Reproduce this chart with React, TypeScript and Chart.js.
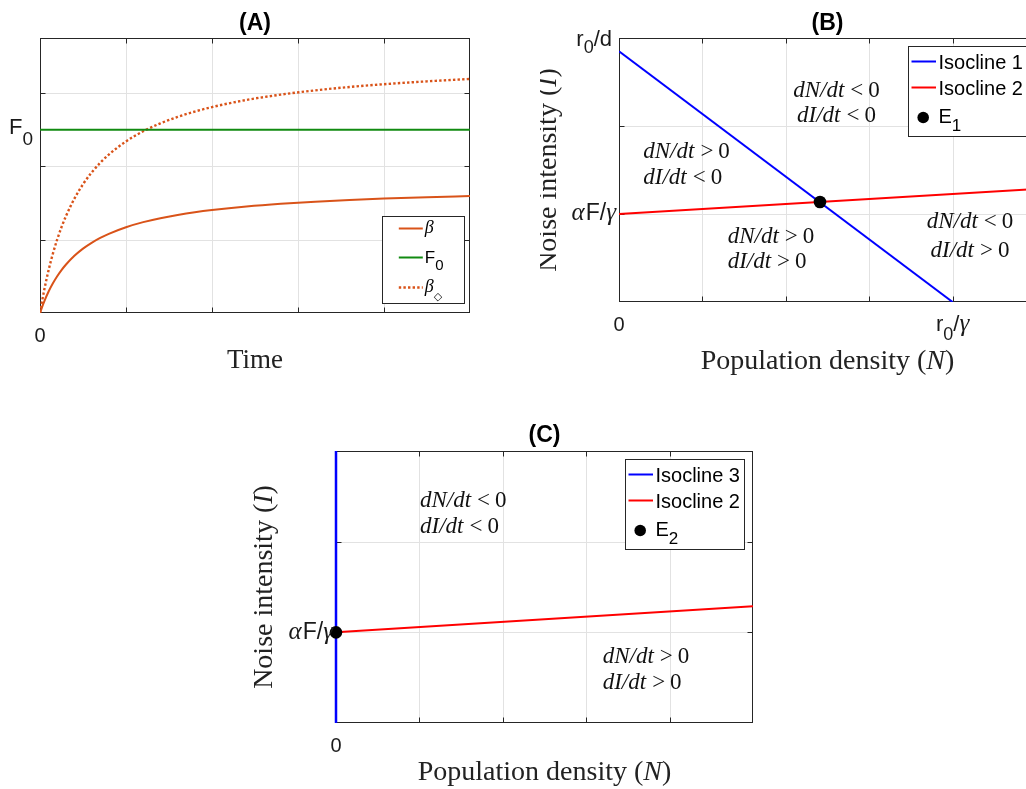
import React, { useEffect, useRef } from 'react';
import { Chart, registerables } from 'chart.js';

Chart.register(...registerables);

// ---------------- data ----------------
// Panel A
const timeValues = [0, 0.025, 0.05, 0.1, 0.15, 0.2, 0.25, 0.3, 0.4, 0.5, 0.6, 0.7, 0.8, 1.0, 1.2, 1.4, 1.6, 1.8, 2.0, 2.4, 2.8, 3.2, 3.6, 4.0, 4.5, 5.0];
const betaValues = [0, 0.084, 0.16, 0.293, 0.405, 0.501, 0.585, 0.658, 0.78, 0.878, 0.957, 1.024, 1.08, 1.17, 1.239, 1.293, 1.337, 1.374, 1.404, 1.452, 1.489, 1.518, 1.541, 1.56, 1.58, 1.595];
const betaDiamondValues = [0, 0.167, 0.319, 0.585, 0.81, 1.003, 1.17, 1.316, 1.56, 1.755, 1.915, 2.048, 2.16, 2.34, 2.478, 2.586, 2.674, 2.747, 2.808, 2.905, 2.978, 3.036, 3.082, 3.12, 3.159, 3.191];
const f0Time = [0, 5];
const f0Values = [2.5, 2.5];
const panelAGridX = [1, 2, 3, 4];
const panelAGridY = [1, 2, 3];

// Panel B
const isocline1N = [0, 4];
const isocline1I = [2.85, 0];
const isocline2BN = [0, 5];
const isocline2BI = [1, 1.285];
const equilibrium1N = [2.41];
const equilibrium1I = [1.137];
const panelBGridX = [1, 2, 3, 4, 5];
const panelBGridY = [1, 2];

// Panel C
const isocline3N = [0, 0];
const isocline3I = [0, 3];
const isocline2CN = [0, 5];
const isocline2CI = [1, 1.287];
const equilibrium2N = [0];
const equilibrium2I = [1];
const panelCGridX = [1, 2, 3, 4];
const panelCGridY = [1, 2];

// ---------------- styling helpers ----------------
const SANS = "'Liberation Sans', Arial, Helvetica, sans-serif";
const SERIF = "'Liberation Serif', 'Times New Roman', serif";
const SYM = "'DejaVu Sans', sans-serif";
const AXIS_COLOR = '#262626';
const GRID_COLOR = '#e2e2e2';
const ORANGE = '#D95319';
const GREEN = '#118a11';
const BLUE = '#0000ff';
const RED = '#ff0000';

const fnt = (size: number, family: string, style = '') => `${style} ${size}px ${family}`.trim();

type Seg = { t?: string; font?: string; dy?: number; gap?: number };

function measureSegs(ctx: CanvasRenderingContext2D, segs: Seg[]) {
  let w = 0;
  for (const s of segs) {
    if (s.gap) { w += s.gap; continue; }
    ctx.font = s.font as string;
    w += ctx.measureText(s.t as string).width;
  }
  return w;
}

function drawSegs(ctx: CanvasRenderingContext2D, segs: Seg[], x: number, y: number, align: 'left' | 'center' | 'right') {
  const w = measureSegs(ctx, segs);
  let cx = align === 'left' ? x : align === 'center' ? x - w / 2 : x - w;
  ctx.textAlign = 'left';
  ctx.textBaseline = 'alphabetic';
  for (const s of segs) {
    if (s.gap) { cx += s.gap; continue; }
    ctx.font = s.font as string;
    ctx.fillText(s.t as string, cx, y + (s.dy || 0));
    cx += ctx.measureText(s.t as string).width;
  }
}

const MATH_IT = fnt(23, SERIF, 'italic');
const MATH_RM = fnt(23, SERIF);
const ineq = (lhs: string, op: string): Seg[] => [
  { t: lhs, font: MATH_IT }, { gap: 6 }, { t: op, font: MATH_RM }, { gap: 5 }, { t: '0', font: MATH_RM },
];
const TICK = fnt(20, SANS);
const TEX = fnt(22, SANS);
const TEX_SUB = fnt(18, SANS);
const GREEK = fnt(25, SERIF, 'italic');
const TITLE_FONT = fnt(28, SERIF);

const alphaFGamma: Seg[] = [{ t: 'α', font: GREEK }, { gap: 1 }, { t: 'F/', font: fnt(23, SANS) }, { t: 'γ', font: GREEK }];
const zeroLabel: Seg[] = [{ t: '0', font: TICK }];
const popTitle: Seg[] = [{ t: 'Population density (', font: TITLE_FONT }, { t: 'N', font: fnt(28, SERIF, 'italic') }, { t: ')', font: TITLE_FONT }];
const noiseTitle: Seg[] = [{ t: 'Noise intensity (', font: TITLE_FONT }, { t: 'I', font: fnt(28, SERIF, 'italic') }, { t: ')', font: TITLE_FONT }];

type TickLabel = { v: number; segs: Seg[]; dy?: number; gap?: number };
type Note = { n: number; i: number; align: 'left' | 'center'; lines: Seg[][]; gap: number };
type LegendRow = { dy: number; kind: 'line' | 'dots' | 'marker'; color: string; label: Seg[]; labelDy: number };
type LegendSpec = {
  right: number; top?: number; bottom?: number; width: number; height: number;
  lineX0: number; lineX1: number; textX: number; markerX: number; markerR: number; rows: LegendRow[];
};
type PanelSpec = {
  title: string; titleDy: number;
  gridX: number[]; gridY: number[];
  xTitle: Seg[]; xTitleDy: number;
  yTitle: Seg[] | null; yTitleDx: number;
  xTicks: TickLabel[]; xTickDy: number;
  yTicks: TickLabel[];
  notes: Note[];
  legend: LegendSpec;
};

function framePlugin(spec: PanelSpec) {
  return {
    id: 'matlabFrame',
    beforeDatasetsDraw(chart: any) {
      const { ctx, chartArea: a, scales } = chart;
      const xs = scales.x, ys = scales.y;
      ctx.save();
      ctx.lineWidth = 1;
      ctx.strokeStyle = GRID_COLOR;
      ctx.beginPath();
      for (const v of spec.gridX) {
        const px = Math.round(xs.getPixelForValue(v)) + 0.5;
        ctx.moveTo(px, a.top); ctx.lineTo(px, a.bottom);
      }
      for (const v of spec.gridY) {
        const py = Math.round(ys.getPixelForValue(v)) + 0.5;
        ctx.moveTo(a.left, py); ctx.lineTo(a.right, py);
      }
      ctx.stroke();
      const L = Math.round(a.left) + 0.5, R = Math.round(a.right) - 0.5;
      const T = Math.round(a.top) + 0.5, B = Math.round(a.bottom) - 0.5;
      ctx.strokeStyle = AXIS_COLOR;
      ctx.strokeRect(L, T, R - L, B - T);
      ctx.beginPath();
      for (const v of spec.gridX) {
        const px = Math.round(xs.getPixelForValue(v)) + 0.5;
        ctx.moveTo(px, B); ctx.lineTo(px, B - 5);
        ctx.moveTo(px, T); ctx.lineTo(px, T + 5);
      }
      for (const v of spec.gridY) {
        const py = Math.round(ys.getPixelForValue(v)) + 0.5;
        ctx.moveTo(L, py); ctx.lineTo(L + 5, py);
        ctx.moveTo(R, py); ctx.lineTo(R - 5, py);
      }
      ctx.stroke();
      ctx.restore();
    },
    afterDraw(chart: any) {
      const { ctx, chartArea: a, scales } = chart;
      const xs = scales.x, ys = scales.y;
      ctx.save();
      ctx.fillStyle = '#000';
      const cx = (a.left + a.right) / 2;
      const cy = (a.top + a.bottom) / 2;
      // title
      drawSegs(ctx, [{ t: spec.title, font: fnt(23, SANS, 'bold') }], cx, a.top - spec.titleDy, 'center');
      // tick labels
      ctx.fillStyle = '#1a1a1a';
      for (const tl of spec.xTicks) {
        drawSegs(ctx, tl.segs, xs.getPixelForValue(tl.v), a.bottom + spec.xTickDy, 'center');
      }
      for (const tl of spec.yTicks) {
        drawSegs(ctx, tl.segs, a.left - (tl.gap ?? 6), ys.getPixelForValue(tl.v) + (tl.dy ?? 5), 'right');
      }
      // axis titles
      ctx.fillStyle = '#222';
      drawSegs(ctx, spec.xTitle, cx, a.bottom + spec.xTitleDy, 'center');
      if (spec.yTitle) {
        ctx.save();
        ctx.translate(a.left - spec.yTitleDx, cy);
        ctx.rotate(-Math.PI / 2);
        drawSegs(ctx, spec.yTitle, 0, 0, 'center');
        ctx.restore();
      }
      // region notes
      ctx.fillStyle = '#111';
      for (const nt of spec.notes) {
        const px = xs.getPixelForValue(nt.n);
        const py = ys.getPixelForValue(nt.i);
        nt.lines.forEach((ln, k) => drawSegs(ctx, ln, px, py + k * nt.gap, nt.align));
      }
      // legend
      const lg = spec.legend;
      const bx = Math.round(a.right - lg.right - lg.width) + 0.5;
      const by = Math.round(lg.top !== undefined ? a.top + lg.top : a.bottom - (lg.bottom as number) - lg.height) + 0.5;
      ctx.fillStyle = '#fff';
      ctx.fillRect(bx, by, lg.width, lg.height);
      ctx.strokeStyle = AXIS_COLOR;
      ctx.lineWidth = 1;
      ctx.strokeRect(bx, by, lg.width, lg.height);
      for (const row of lg.rows) {
        const ry = by + row.dy;
        if (row.kind === 'marker') {
          ctx.fillStyle = '#000';
          ctx.beginPath();
          ctx.arc(bx + lg.markerX, ry, lg.markerR, 0, Math.PI * 2);
          ctx.fill();
        } else {
          ctx.strokeStyle = row.color;
          ctx.lineWidth = row.kind === 'dots' ? 2.4 : 2;
          ctx.setLineDash(row.kind === 'dots' ? [2.4, 2.2] : []);
          ctx.beginPath();
          ctx.moveTo(bx + lg.lineX0, ry);
          ctx.lineTo(bx + lg.lineX1, ry);
          ctx.stroke();
          ctx.setLineDash([]);
        }
        ctx.fillStyle = '#000';
        drawSegs(ctx, row.label, bx + lg.textX, ry + row.labelDy, 'left');
      }
      ctx.restore();
    },
  };
}

const zip = (xs: number[], ys: number[]) => xs.map((x, k) => ({ x, y: ys[k] }));

const lineDs = (xs: number[], ys: number[], color: string, extra: any = {}) => ({
  data: zip(xs, ys), showLine: true, borderColor: color, backgroundColor: color, borderWidth: 2,
  pointRadius: 0, pointHoverRadius: 0, fill: false, tension: 0, ...extra,
});
const markerDs = (xs: number[], ys: number[]) => ({
  data: zip(xs, ys), showLine: false, pointRadius: 6.3, pointBackgroundColor: '#000', pointBorderWidth: 0,
  pointHoverRadius: 6.3, clip: false,
});

// ---------------- panel specs ----------------
const legendBC = (first: string, eq: string): LegendSpec => ({
  right: 8.7, top: 8, width: 119, height: 90, lineX0: 3, lineX1: 27.5, textX: 30, markerX: 14.7, markerR: 5.8,
  rows: [
    { dy: 15, kind: 'line', color: BLUE, label: [{ t: first, font: fnt(20, SANS) }], labelDy: 7 },
    { dy: 41, kind: 'line', color: RED, label: [{ t: 'Isocline 2', font: fnt(20, SANS) }], labelDy: 7 },
    { dy: 71, kind: 'marker', color: '#000', label: [{ t: 'E', font: fnt(20, SANS) }, { t: eq, font: fnt(17, SANS), dy: 8 }], labelDy: 5 },
  ],
});

const specA: PanelSpec = {
  title: '(A)', titleDy: 8,
  gridX: panelAGridX, gridY: panelAGridY,
  xTitle: [{ t: 'Time', font: fnt(27, SERIF) }], xTitleDy: 55,
  yTitle: null, yTitleDx: 0,
  xTicks: [{ v: 0, segs: zeroLabel }], xTickDy: 29,
  yTicks: [{ v: 2.5, segs: [{ t: 'F', font: fnt(22, SANS) }, { t: '0', font: fnt(19, SANS), dy: 11 }], dy: 4, gap: 7 }],
  notes: [],
  legend: {
    right: 6, bottom: 10, width: 82, height: 87, lineX0: 16.3, lineX1: 40.3, textX: 42.3, markerX: 0, markerR: 0,
    rows: [
      { dy: 12, kind: 'line', color: ORANGE, label: [{ t: 'β', font: fnt(18, SERIF, 'italic') }], labelDy: 4 },
      { dy: 41, kind: 'line', color: GREEN, label: [{ t: 'F', font: fnt(17, SANS) }, { t: '0', font: fnt(15, SANS), dy: 7 }], labelDy: 5 },
      { dy: 71, kind: 'dots', color: ORANGE, label: [{ t: 'β', font: fnt(18, SERIF, 'italic') }, { t: '◇', font: fnt(11, SYM), dy: 8 }], labelDy: 4 },
    ],
  },
};

const specB: PanelSpec = {
  title: '(B)', titleDy: 8,
  gridX: panelBGridX, gridY: panelBGridY,
  xTitle: popTitle, xTitleDy: 67,
  yTitle: noiseTitle, yTitleDx: 63,
  xTicks: [
    { v: 0, segs: zeroLabel },
    { v: 4, segs: [{ t: 'r', font: TEX }, { t: '0', font: TEX_SUB, dy: 9 }, { t: '/', font: TEX }, { t: 'γ', font: GREEK }] },
  ],
  xTickDy: 29,
  yTicks: [
    { v: 3, segs: [{ t: 'r', font: TEX }, { t: '0', font: TEX_SUB, dy: 7 }, { t: '/d', font: TEX }], dy: 8, gap: 7 },
    { v: 1, segs: alphaFGamma, dy: 6, gap: 3 },
  ],
  notes: [
    { n: 2.608, i: 2.333, align: 'center', lines: [ineq('dN/dt', '<'), ineq('dI/dt', '<')], gap: 25 },
    { n: 0.291, i: 1.633, align: 'left', lines: [ineq('dN/dt', '>'), ineq('dI/dt', '<')], gap: 26 },
    { n: 1.303, i: 0.667, align: 'left', lines: [ineq('dN/dt', '>'), ineq('dI/dt', '>')], gap: 25 },
    { n: 4.209, i: 0.844, align: 'center', lines: [ineq('dN/dt', '<'), ineq('dI/dt', '>')], gap: 29 },
  ],
  legend: legendBC('Isocline 1', '1'),
};

const specC: PanelSpec = {
  title: '(C)', titleDy: 9,
  gridX: panelCGridX, gridY: panelCGridY,
  xTitle: popTitle, xTitleDy: 57,
  yTitle: noiseTitle, yTitleDx: 64,
  xTicks: [{ v: 0, segs: zeroLabel }], xTickDy: 29,
  yTicks: [{ v: 1, segs: alphaFGamma, dy: 7, gap: 3 }],
  notes: [
    { n: 1.007, i: 2.379, align: 'left', lines: [ineq('dN/dt', '<'), ineq('dI/dt', '<')], gap: 26 },
    { n: 3.198, i: 0.658, align: 'left', lines: [ineq('dN/dt', '>'), ineq('dI/dt', '>')], gap: 26 },
  ],
  legend: legendBC('Isocline 3', '2'),
};

type PanelProps = {
  left: number; top: number; width: number; height: number;
  padding: { left: number; top: number; right: number; bottom: number };
  yMax: number; datasets: any[]; spec: PanelSpec;
};

function Panel({ left, top, width, height, padding, yMax, datasets, spec }: PanelProps) {
  const ref = useRef<HTMLCanvasElement | null>(null);
  useEffect(() => {
    if (!ref.current) return;
    const chart = new Chart(ref.current, {
      type: 'scatter',
      data: { datasets },
      options: {
        animation: false,
        responsive: false,
        devicePixelRatio: 1,
        events: [],
        layout: { padding },
        plugins: { legend: { display: false }, tooltip: { enabled: false }, title: { display: false } },
        scales: {
          x: { type: 'linear', min: 0, max: 5, display: false },
          y: { type: 'linear', min: 0, max: yMax, display: false },
        },
      },
      plugins: [framePlugin(spec)],
    } as any);
    return () => chart.destroy();
  }, []);
  return (
    <canvas
      ref={ref}
      width={width}
      height={height}
      style={{ position: 'absolute', left, top, width, height }}
    />
  );
}

export default function App() {
  const dsA = [
    lineDs(f0Time, f0Values, GREEN),
    lineDs(timeValues, betaDiamondValues, ORANGE, { borderWidth: 2.4, borderDash: [2.4, 2.2], cubicInterpolationMode: 'monotone' }),
    lineDs(timeValues, betaValues, ORANGE, { cubicInterpolationMode: 'monotone' }),
  ];
  const dsB = [
    markerDs(equilibrium1N, equilibrium1I),
    lineDs(isocline2BN, isocline2BI, RED),
    lineDs(isocline1N, isocline1I, BLUE),
  ];
  const dsC = [
    markerDs(equilibrium2N, equilibrium2I),
    lineDs(isocline2CN, isocline2CI, RED),
    lineDs(isocline3N, isocline3I, BLUE, { borderWidth: 2.5, clip: false }),
  ];
  return (
    <div style={{ position: 'fixed', left: 0, top: 0, width: 1026, height: 789, overflow: 'hidden', background: '#fff' }}>
      <Panel left={0} top={0} width={500} height={390} padding={{ left: 40, top: 38, right: 30, bottom: 77 }} yMax={3.75} datasets={dsA} spec={specA} />
      <Panel left={540} top={0} width={520} height={390} padding={{ left: 79, top: 38, right: 24, bottom: 88 }} yMax={3} datasets={dsB} spec={specB} />
      <Panel left={240} top={420} width={540} height={369} padding={{ left: 96, top: 31, right: 27, bottom: 66 }} yMax={3} datasets={dsC} spec={specC} />
    </div>
  );
}
